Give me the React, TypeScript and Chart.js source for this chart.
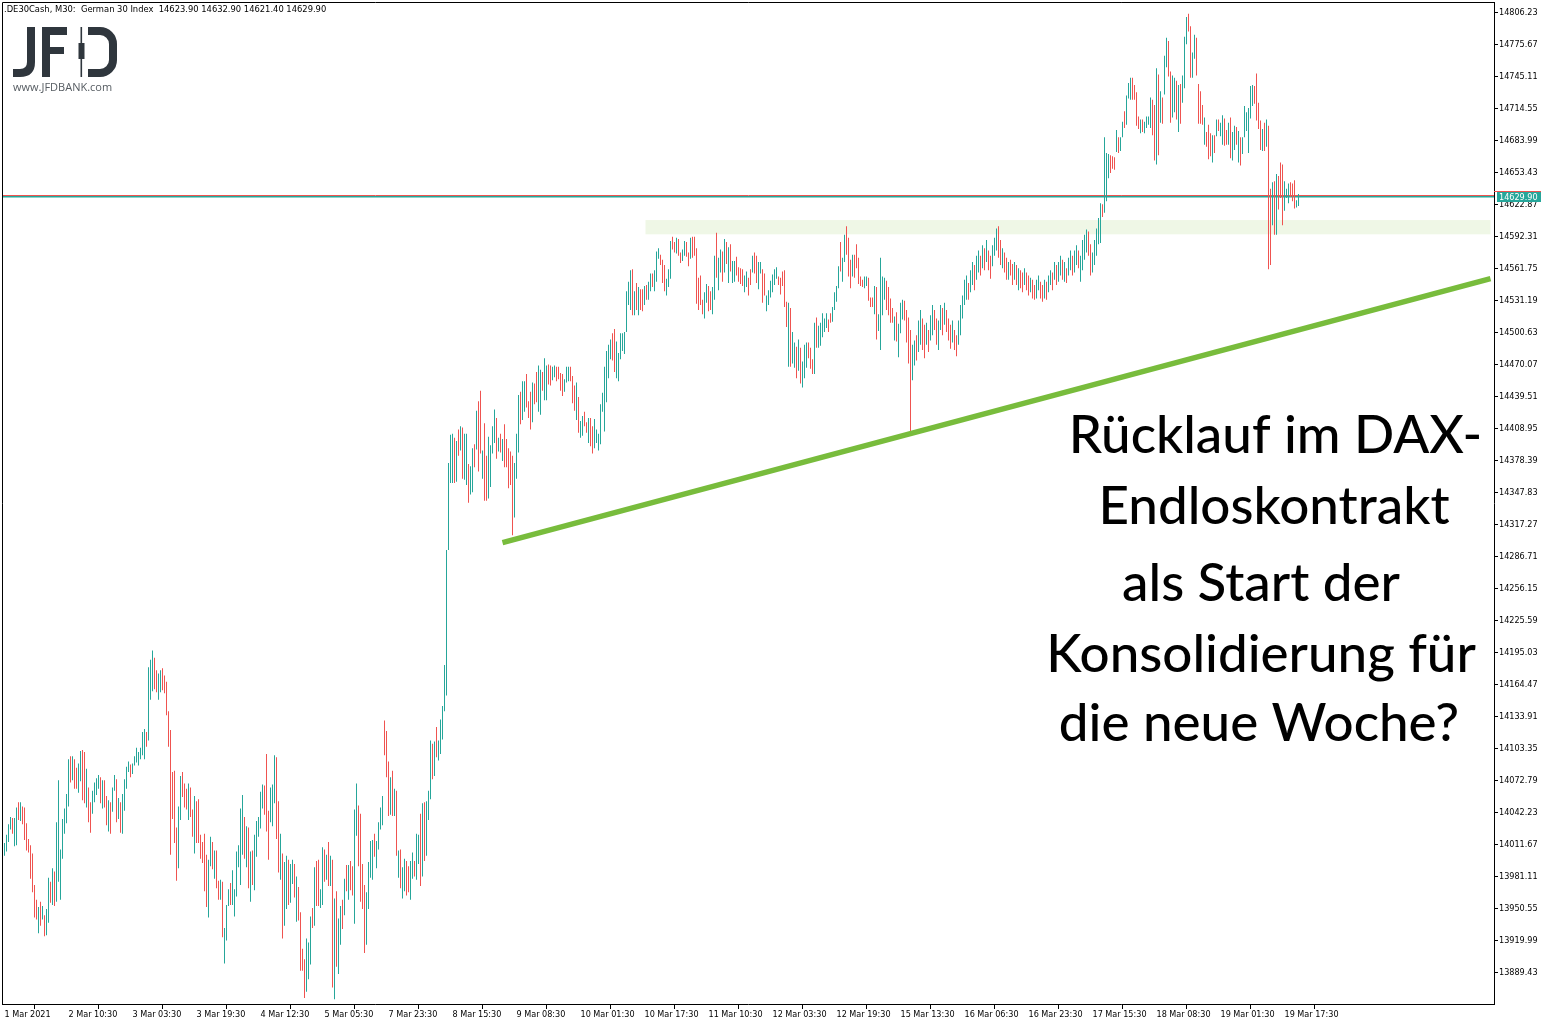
import { useEffect, useRef } from 'react';
import { Chart, registerables } from 'chart.js';

Chart.register(...registerables);

// ---- data (M30 bars, .DE30Cash) ----
const highs = [
  14013,14021,14031,14038,14037,14037,14047,14052,14052,14048,
  14047,14032,14017,14011,14003,13973,13959,13952,13957,13953,
  13944,13950,13980,13976,13989,13986,14033,14073,14007,14036,
  14046,14060,14093,14096,14096,14093,14085,14089,14101,14102,
  14100,14084,14066,14052,14063,14071,14075,14078,14076,14073,
  14073,14058,14054,14052,14066,14078,14074,14056,14052,14060,
  14074,14086,14091,14088,14089,14096,14104,14100,14104,14119,
  14122,14119,14181,14188,14197,14190,14178,14175,14178,14180,
  14173,14167,14139,14121,14081,14082,14028,14048,14077,14081,
  14070,14065,14070,14066,14045,14058,14053,14055,14021,14014,
  14022,14002,13997,14019,14014,14006,14006,13977,13978,13976,
  13932,13954,13969,13975,13987,13969,14005,14011,14046,14059,
  14038,14029,14028,14005,14006,14021,14034,14038,14062,14069,
  14068,14098,14044,14066,14069,14097,14095,14053,14022,14003,
  13995,14001,13997,13993,13997,13993,13981,13971,13947,13912,
  13902,13922,13918,13943,13951,13990,13996,13997,13969,14009,
  14007,14002,14014,14001,13997,13960,13967,13941,13953,13959,
  13979,13992,13992,13996,13991,14045,14070,14049,14041,13993,
  13973,13966,13995,14015,14016,14022,14015,14033,14047,14058,
  14130,14120,14091,14076,14082,14065,14063,14006,14007,13990,
  13998,13996,13991,13996,14004,13996,14022,14021,14041,14051,
  14052,14053,14063,14111,14108,14110,14124,14111,14131,14144,
  14183,14293,14376,14403,14404,14400,14397,14408,14411,14410,
  14404,14404,14375,14373,14390,14394,14426,14435,14445,14388,
  14414,14383,14401,14393,14411,14427,14419,14400,14404,14399,
  14413,14399,14390,14387,14383,14376,14404,14441,14444,14454,
  14454,14461,14435,14444,14453,14452,14463,14469,14465,14463,
  14476,14469,14470,14469,14468,14469,14468,14468,14462,14461,
  14456,14468,14468,14468,14459,14450,14453,14439,14416,14421,
  14425,14415,14419,14419,14411,14418,14408,14404,14432,14443,
  14468,14483,14489,14494,14500,14504,14492,14481,14500,14500,
  14501,14540,14549,14560,14561,14540,14548,14544,14542,14542,
  14545,14546,14549,14557,14557,14560,14578,14581,14575,14570,
  14565,14552,14561,14588,14592,14587,14591,14590,14577,14580,
  14588,14587,14577,14591,14592,14592,14581,14553,14555,14532,
  14539,14547,14545,14540,14544,14574,14596,14572,14580,14578,
  14590,14587,14582,14585,14569,14569,14573,14563,14562,14561,
  14555,14559,14553,14561,14574,14577,14574,14568,14568,14561,
  14557,14536,14541,14550,14556,14561,14563,14554,14553,14559,
  14560,14530,14529,14524,14501,14491,14487,14494,14486,14473,
  14489,14491,14491,14486,14475,14510,14515,14507,14510,14519,
  14514,14519,14513,14519,14525,14539,14545,14564,14587,14572,
  14594,14602,14591,14570,14575,14575,14585,14572,14554,14551,
  14554,14554,14553,14534,14534,14545,14544,14518,14572,14554,
  14553,14550,14544,14533,14524,14516,14520,14509,14529,14532,
  14531,14522,14515,14503,14489,14493,14498,14512,14522,14514,
  14508,14510,14503,14517,14527,14522,14514,14512,14527,14524,
  14529,14522,14514,14508,14512,14503,14498,14512,14527,14536,
  14551,14555,14548,14560,14568,14565,14574,14579,14574,14584,
  14581,14589,14579,14574,14584,14591,14600,14602,14589,14581,
  14577,14572,14568,14570,14566,14568,14565,14562,14560,14558,
  14562,14558,14555,14553,14551,14546,14551,14555,14549,14546,
  14551,14549,14555,14560,14558,14568,14565,14568,14574,14570,
  14568,14562,14572,14579,14574,14579,14584,14579,14574,14589,
  14594,14599,14597,14585,14577,14589,14600,14610,14624,14623,
  14687,14672,14671,14670,14669,14668,14694,14687,14687,14702,
  14712,14727,14739,14744,14744,14737,14730,14707,14704,14704,
  14702,14707,14707,14725,14723,14718,14753,14747,14731,14725,
  14765,14782,14779,14750,14746,14744,14741,14737,14738,14746,
  14783,14802,14805,14793,14768,14785,14782,14738,14731,14718,
  14706,14692,14699,14691,14689,14689,14704,14704,14701,14708,
  14705,14694,14701,14706,14692,14698,14697,14693,14687,14687,
  14717,14711,14715,14736,14737,14736,14748,14720,14703,14695,
  14701,14704,14698,14638,14644,14645,14652,14650,14663,14661,
  14645,14638,14643,14644,14643,14646,14627,14632.9,
];

const lows = [
  14001,14005,14014,14026,14022,14010,14011,14035,14034,14031,
  14016,14006,14004,13979,13966,13942,13940,13927,13934,13940,
  13924,13925,13937,13956,13954,13953,13957,13976,13959,13998,
  14022,14032,14048,14071,14073,14065,14065,14061,14072,14054,
  14051,14047,14033,14023,14041,14052,14059,14065,14051,14046,
  14047,14030,14024,14022,14043,14063,14033,14036,14023,14022,
  14044,14065,14081,14076,14079,14087,14090,14087,14093,14097,
  14093,14105,14111,14150,14158,14160,14157,14150,14157,14159,
  14156,14135,14105,14002,14036,14013,13977,13989,14035,14057,
  14047,14045,14035,14038,14019,14003,14013,14013,13998,13994,
  13967,13952,13942,13991,13988,13979,13970,13959,13959,13923,
  13898,13920,13953,13954,13954,13943,13962,13990,13973,14002,
  13998,13990,13970,13957,13973,13968,14000,14019,14027,14046,
  14040,14024,13997,14033,14029,14051,14017,13985,13978,13922,
  13934,13950,13954,13956,13974,13961,13938,13939,13891,13891,
  13865,13871,13883,13897,13932,13934,13953,13953,13951,13954,
  13976,13978,13972,13972,13875,13864,13895,13888,13916,13931,
  13944,13967,13959,13968,13963,13936,14020,13991,13957,13950,
  13908,13916,13950,13980,13978,14000,13989,14007,14026,14030,
  14097,14076,14039,14040,14039,14039,14001,13980,13970,13960,
  13967,13963,13966,13959,13979,13981,13978,13993,13972,13981,
  13996,14001,14035,14055,14074,14077,14095,14092,14098,14112,
  14139,14154,14293,14357,14357,14357,14358,14383,14388,14361,
  14360,14355,14338,14346,14348,14372,14389,14368,14385,14361,
  14340,14340,14342,14353,14385,14395,14380,14387,14386,14378,
  14372,14372,14352,14355,14307,14324,14361,14386,14413,14417,
  14425,14429,14419,14408,14415,14432,14434,14425,14422,14445,
  14436,14436,14451,14450,14455,14458,14454,14456,14445,14440,
  14444,14453,14454,14454,14433,14426,14417,14405,14400,14402,
  14411,14405,14395,14392,14385,14390,14395,14388,14394,14425,
  14406,14434,14457,14475,14474,14463,14457,14454,14475,14483,
  14480,14501,14527,14522,14517,14517,14522,14517,14522,14521,
  14527,14532,14532,14540,14544,14540,14549,14571,14565,14548,
  14540,14536,14544,14552,14580,14577,14576,14574,14567,14569,
  14574,14573,14564,14571,14572,14574,14528,14522,14527,14518,
  14514,14529,14521,14522,14518,14532,14553,14541,14558,14549,
  14558,14566,14548,14559,14548,14549,14555,14549,14547,14545,
  14539,14544,14536,14546,14558,14557,14548,14542,14557,14529,
  14536,14521,14527,14534,14539,14546,14552,14546,14537,14545,
  14525,14506,14468,14468,14471,14467,14457,14464,14452,14448,
  14457,14467,14476,14466,14461,14461,14486,14486,14488,14496,
  14501,14505,14501,14510,14511,14522,14530,14543,14559,14549,
  14568,14575,14554,14543,14554,14553,14562,14547,14545,14544,
  14543,14545,14531,14525,14525,14518,14494,14502,14484,14517,
  14532,14522,14517,14510,14510,14493,14492,14477,14500,14513,
  14512,14491,14471,14405,14455,14469,14474,14482,14489,14484,
  14476,14489,14482,14493,14498,14503,14489,14484,14503,14498,
  14508,14501,14493,14485,14491,14484,14478,14489,14498,14514,
  14527,14532,14532,14539,14546,14541,14551,14558,14555,14562,
  14560,14568,14560,14552,14564,14574,14579,14572,14565,14562,
  14558,14551,14551,14555,14546,14551,14546,14541,14543,14539,
  14546,14541,14536,14539,14533,14532,14533,14541,14533,14530,
  14533,14532,14539,14546,14541,14551,14546,14549,14555,14551,
  14549,14548,14555,14560,14555,14558,14565,14562,14549,14560,
  14570,14577,14574,14555,14558,14565,14574,14585,14586,14611,
  14615,14626,14648,14653,14657,14656,14673,14672,14674,14687,
  14696,14699,14724,14723,14723,14723,14698,14695,14691,14692,
  14691,14696,14699,14696,14689,14665,14661,14670,14701,14700,
  14728,14754,14745,14701,14706,14711,14704,14692,14700,14720,
  14734,14776,14788,14744,14744,14762,14746,14700,14700,14699,
  14680,14678,14666,14669,14663,14672,14688,14693,14688,14680,
  14679,14680,14680,14667,14665,14675,14680,14663,14660,14671,
  14687,14693,14672,14705,14717,14719,14703,14695,14675,14674,
  14674,14678,14561,14565,14603,14594,14594,14618,14629,14603,
  14617,14629,14624,14630,14626,14619,14620,14621.4,
];

// 1 = bullish bar (close >= open), 0 = bearish bar
const ups = [
  1,1,1,1,0,1,1,0,1,0, 0,0,0,0,0,0,0,1,0,1, 0,1,1,0,1,0,1,1,1,1, 1,1,1,0,1,0,0,1,1,0,
  0,1,0,0,1,1,1,1,0,1, 0,0,1,0,1,1,0,1,0,1, 1,1,1,0,1,1,1,1,1,1, 1,0,1,1,1,0,0,1,1,0,
  0,0,0,0,0,0,0,1,1,0, 0,0,1,0,0,1,0,0,0,0, 0,0,1,1,0,1,0,0,1,0, 1,1,1,0,1,1,1,1,1,1,
  0,1,0,1,0,1,1,1,1,1, 0,0,0,1,1,1,0,0,1,0, 1,1,0,1,1,0,1,0,0,0, 0,1,1,1,0,1,0,0,1,1,
  0,1,0,1,0,1,0,1,1,0, 1,0,1,0,0,1,1,0,0,0, 0,1,1,1,1,0,1,1,1,1, 0,0,0,1,0,1,0,1,0,1,
  1,0,0,1,1,0,1,1,0,1, 0,1,1,1,0,1,0,1,1,1, 1,1,1,1,1,0,1,0,1,0, 1,1,0,1,1,0,1,0,0,1,
  0,0,1,1,1,1,0,1,0,1, 0,0,0,0,0,1,1,1,0,1, 1,0,0,0,1,0,0,1,1,0, 1,1,0,0,1,1,0,0,0,0,
  1,1,1,0,0,0,1,0,1,1, 0,0,1,0,0,1,1,1,1,1, 1,1,1,1,0,0,1,1,1,1, 1,1,1,1,0,1,0,1,0,0,
  1,0,1,1,0,1,1,1,0,0, 0,1,1,1,0,0,1,0,0,1, 1,0,0,1,0,0,0,0,0,0, 1,1,0,0,1,1,0,1,1,0,
  1,0,1,0,1,1,0,0,0,0, 1,1,0,0,1,0,0,1,1,0, 0,1,1,1,1,1,1,0,0,0, 0,0,1,0,1,1,0,1,0,1,
  1,1,0,0,0,1,0,1,1,1, 1,1,0,0,1,1,1,1,0,1, 1,0,0,0,1,0,0,0,0,0, 1,1,0,0,0,1,0,1,1,1,
  1,0,0,0,0,1,0,1,1,1, 0,0,0,0,1,1,0,1,1,0, 0,1,0,1,1,0,0,1,1,0, 1,0,0,0,1,0,0,1,1,1,
  1,1,0,1,1,0,1,1,0,1, 0,1,0,0,1,1,1,0,0,1, 0,0,1,0,0,1,0,1,0,0, 1,0,0,1,0,0,1,1,0,0,
  1,0,1,1,0,1,0,1,1,0, 1,0,1,1,0,1,1,0,1,1, 1,1,0,0,1,1,1,1,1,0, 1,1,1,0,0,0,1,0,1,1,
  0,1,1,1,0,0,0,0,1,0, 1,1,1,1,0,0,1,0,1,0, 1,1,0,0,1,1,0,1,0,1, 1,1,0,0,1,1,0,0,0,0,
  1,0,0,0,1,0,1,0,1,1, 0,0,1,0,1,1,0,1,0,1, 1,1,1,1,1,0,0,0,0,1, 0,1,0,0,1,0,1,0,0,0,
  1,1,1,0,0,0,1,1,
];

const timeLabels = [
  '1 Mar 2021', '2 Mar 10:30', '3 Mar 03:30', '3 Mar 19:30', '4 Mar 12:30', '5 Mar 05:30',
  '7 Mar 23:30', '8 Mar 15:30', '9 Mar 08:30', '10 Mar 01:30', '10 Mar 17:30', '11 Mar 10:30',
  '12 Mar 03:30', '12 Mar 19:30', '15 Mar 13:30', '16 Mar 06:30', '16 Mar 23:30', '17 Mar 15:30',
  '18 Mar 08:30', '19 Mar 01:30', '19 Mar 17:30',
];

const priceTicks = [
  14806.23, 14775.67, 14745.11, 14714.55, 14683.99, 14653.43, 14622.87, 14592.31, 14561.75,
  14531.19, 14500.63, 14470.07, 14439.51, 14408.95, 14378.39, 14347.83, 14317.27, 14286.71,
  14256.15, 14225.59, 14195.03, 14164.47, 14133.91, 14103.35, 14072.79, 14042.23, 14011.67,
  13981.11, 13950.55, 13919.99, 13889.43,
];

const lastBar = [14623.9, 14632.9, 14621.4, 14629.9]; // O H L C
const askPrice = 14630.9;
const zonePrices = [14594.4, 14608.0];
const zoneBars = [320.5, 743];
const trendBars = [249, 743];
const trendPrices = [14300, 14552];
const annotationLines = ['Rücklauf im DAX-', 'Endloskontrakt', 'als Start der', 'Konsolidierung für', 'die neue Woche?'];

// ---- styling ----
const TEAL = '#26a69a';
const RED = '#ef5350';
const AXIS_FONT = "'DejaVu Sans Condensed', 'DejaVu Sans', sans-serif";
const LOGO = '#2f363d';
// center x, baseline y, target width for annotation lines
const annotationLayout = [
  [1275.5, 453, 405],
  [1274, 524, 342],
  [1261, 601, 288],
  [1261, 672, 430],
  [1259, 741, 408],
];

const rowOf = (py: number) => Math.floor(py - 0.5) + 0.5;

const decoPlugin = {
  id: 'deco',
  beforeDatasetsDraw(chart: any) {
    const { ctx, chartArea: a, scales } = chart;
    const x = scales.x, y = scales.y;
    ctx.save();
    const zx0 = x.getPixelForValue(zoneBars[0]);
    const zx1 = x.getPixelForValue(zoneBars[1]);
    const zy0 = y.getPixelForValue(zonePrices[1]);
    const zy1 = y.getPixelForValue(zonePrices[0]);
    ctx.fillStyle = '#eff7e6';
    ctx.fillRect(zx0, zy0, zx1 - zx0, zy1 - zy0);
    const ay = rowOf(y.getPixelForValue(askPrice));
    const by = rowOf(y.getPixelForValue(lastBar[3]));
    ctx.lineWidth = 1;
    ctx.strokeStyle = RED;
    ctx.beginPath(); ctx.moveTo(a.left, ay); ctx.lineTo(a.right, ay); ctx.stroke();
    ctx.strokeStyle = TEAL;
    ctx.lineWidth = 1.4;
    ctx.beginPath(); ctx.moveTo(a.left, by + 0.2); ctx.lineTo(a.right, by + 0.2); ctx.stroke();
    ctx.restore();
  },
  afterDraw(chart: any) {
    const { ctx, chartArea: a, scales } = chart;
    const y = scales.y;
    ctx.save();
    ctx.strokeStyle = '#000';
    ctx.lineWidth = 1;
    ctx.beginPath();
    ctx.moveTo(2.5, a.bottom);
    ctx.lineTo(2.5, 2.5);
    ctx.lineTo(a.right, 2.5);
    ctx.stroke();

    ctx.fillStyle = '#000';
    ctx.font = `9.3px ${AXIS_FONT}`;
    ctx.textAlign = 'left';
    ctx.textBaseline = 'alphabetic';
    const hdr = `.DE30Cash, M30:  German 30 Index  ${lastBar.map((v) => v.toFixed(2)).join(' ')}`;
    ctx.fillText(hdr, 4, 11.5);

    // logo
    ctx.strokeStyle = LOGO;
    ctx.fillStyle = LOGO;
    ctx.lineWidth = 8;
    ctx.lineCap = 'butt';
    ctx.beginPath();
    ctx.moveTo(31, 27); ctx.lineTo(31, 62);
    ctx.quadraticCurveTo(31, 73, 20, 73); ctx.lineTo(13, 73);
    ctx.stroke();
    ctx.fillRect(42, 27, 8, 50);
    ctx.fillRect(42, 27, 25, 8);
    ctx.fillRect(42, 47, 22, 7);
    ctx.fillRect(80.5, 27, 1.6, 50);
    ctx.fillRect(78.5, 43, 6, 16);
    ctx.beginPath();
    ctx.moveTo(88, 31); ctx.lineTo(100, 31);
    ctx.arcTo(113, 31, 113, 44, 13); ctx.lineTo(113, 60);
    ctx.arcTo(113, 73, 100, 73, 13); ctx.lineTo(88, 73);
    ctx.stroke();
    ctx.fillStyle = '#555b61';
    ctx.font = "11px 'Open Sans', sans-serif";
    ctx.fillText('www.JFDBANK.com', 13, 91);

    // annotation text
    ctx.fillStyle = '#000';
    const base = 52;
    ctx.font = `500 ${base}px Lato, sans-serif`;
    let mw = 0, tw = 0;
    annotationLines.forEach((t, i) => { mw += ctx.measureText(t).width; tw += annotationLayout[i][2]; });
    const size = base * tw / mw;
    ctx.font = `500 ${size}px Lato, sans-serif`;
    ctx.textAlign = 'center';
    annotationLines.forEach((t, i) => {
      ctx.fillText(t, annotationLayout[i][0], annotationLayout[i][1]);
    });

    // price label on axis
    const py = rowOf(y.getPixelForValue(lastBar[3]));
    ctx.fillStyle = TEAL;
    ctx.fillRect(a.right + 3, py - 4.5, 44, 10);
    ctx.fillStyle = RED;
    ctx.fillRect(a.right, py - 5.5, 47, 1);
    ctx.fillStyle = '#fff';
    ctx.font = `9px ${AXIS_FONT}`;
    ctx.textAlign = 'left';
    ctx.textBaseline = 'middle';
    ctx.fillText(lastBar[3].toFixed(2), a.right + 5, py + 1);
    ctx.restore();
  },
};

export default function App() {
  const ref = useRef<HTMLCanvasElement>(null);
  useEffect(() => {
    document.body.style.margin = '0';
    const barData = highs.map((h, i) => ({ x: i, y: [lows[i], h] }));
    const colors = ups.map((u) => (u ? TEAL : RED));
    const chart = new Chart(ref.current as HTMLCanvasElement, {
      type: 'bar',
      data: {
        datasets: [
          {
            type: 'line',
            data: [
              { x: trendBars[0], y: trendPrices[0] },
              { x: trendBars[1], y: trendPrices[1] },
            ],
            borderColor: '#78bc3c',
            borderWidth: 5.5,
            pointRadius: 0,
            borderCapStyle: 'butt',
            order: 0,
          } as any,
          {
            type: 'bar',
            data: barData as any,
            backgroundColor: colors,
            borderWidth: 0,
            barThickness: 1,
            inflateAmount: 0,
            grouped: false,
            order: 1,
          } as any,
        ],
      },
      options: {
        responsive: false,
        devicePixelRatio: 1,
        animation: false,
        events: [],
        layout: { padding: { left: 2.5, top: 2.5, right: 0, bottom: 0 } },
        plugins: { legend: { display: false }, tooltip: { enabled: false } },
        scales: {
          x: {
            type: 'linear',
            min: -1,
            max: 744.75,
            offset: false,
            afterBuildTicks: (s: any) => {
              s.ticks = timeLabels.map((_, k) => ({ value: 32 * k - 1 }));
            },
            afterFit: (s: any) => {
              s.height = 21;
              s.paddingLeft = 0; s.paddingRight = 0; s.paddingTop = 0; s.paddingBottom = 0;
            },
            ticks: {
              autoSkip: false,
              maxRotation: 0,
              minRotation: 0,
              align: 'start',
              labelOffset: 2,
              padding: 0,
              color: '#000',
              font: { family: AXIS_FONT, size: 9 },
              callback: (_v: any, idx: number) => timeLabels[idx],
            },
            grid: { drawOnChartArea: false, drawTicks: true, tickLength: 5, color: '#000', tickColor: '#000' },
            border: { display: true, color: '#000', width: 1 },
          },
          y: {
            type: 'linear',
            position: 'right',
            min: 13859.35,
            max: 14815.78,
            afterBuildTicks: (s: any) => {
              s.ticks = priceTicks.map((v) => ({ value: v }));
            },
            afterFit: (s: any) => {
              s.width = 58;
              s.paddingLeft = 0; s.paddingRight = 0; s.paddingTop = 0; s.paddingBottom = 0;
            },
            ticks: {
              autoSkip: false,
              padding: 1,
              color: '#000',
              font: { family: AXIS_FONT, size: 9 },
              callback: (v: any) => Number(v).toFixed(2),
            },
            grid: { drawOnChartArea: false, drawTicks: true, tickLength: 4, color: '#000', tickColor: '#000' },
            border: { display: true, color: '#000', width: 1 },
          },
        },
      } as any,
      plugins: [decoPlugin],
    });
    return () => chart.destroy();
  }, []);
  return (
    <div style={{ width: 1552, height: 1025, background: '#fff' }}>
      <canvas ref={ref} width={1552} height={1025} style={{ display: 'block', width: 1552, height: 1025 }} />
    </div>
  );
}
